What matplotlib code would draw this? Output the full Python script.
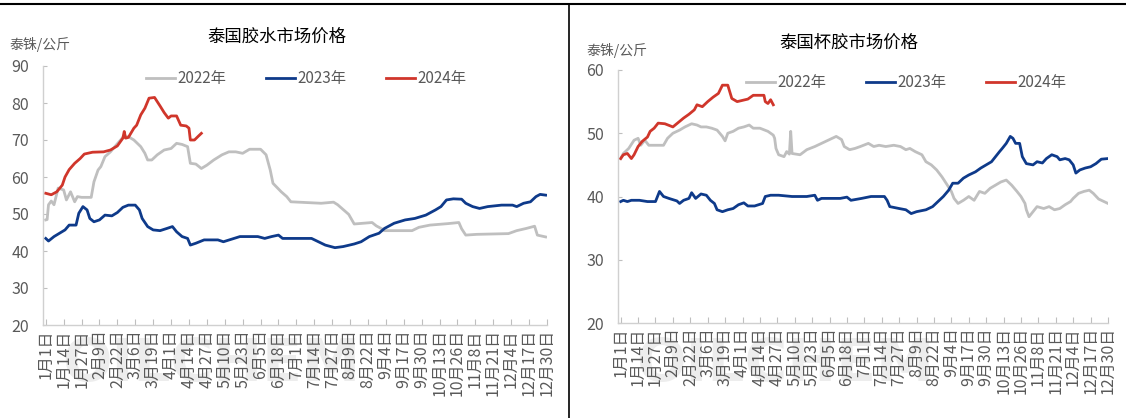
import numpy as np
import matplotlib
matplotlib.use("Agg")
import matplotlib.pyplot as plt
from matplotlib.lines import Line2D

plt.rcParams['font.family'] = ['Noto Sans CJK SC', 'DejaVu Sans']

# x axis: day of year (0 = 1月1日), labels every 13 days
tick_days = list(range(0, 365, 13))
tick_labels = ["1月1日", "1月14日", "1月27日", "2月9日", "2月22日", "3月6日", "3月19日",
               "4月1日", "4月14日", "4月27日", "5月10日", "5月23日", "6月5日", "6月18日",
               "7月1日", "7月14日", "7月27日", "8月9日", "8月22日", "9月4日", "9月17日",
               "9月30日", "10月13日", "10月26日", "11月8日", "11月21日", "12月4日",
               "12月17日", "12月30日"]

# ---- 泰国胶水市场价格 (泰铢/公斤) ----
latex_2022_day = [0, 1, 2, 4, 6, 9, 13, 15, 18, 21, 23, 26, 33, 35, 38, 40, 43, 47, 49, 52,
                  56, 60, 64, 69, 72, 74, 77, 81, 86, 91, 95, 99, 103, 105, 109, 113, 117,
                  122, 128, 133, 138, 143, 148, 156, 160, 163, 165, 171, 175, 178, 200, 209,
                  212, 216, 220, 224, 237, 240, 244, 246, 266, 271, 279, 292, 300, 302, 305,
                  313, 336, 342, 349, 355, 357, 363]
latex_2022_val = [48.4, 48.5, 52.5, 53.5, 52.5, 57.0, 56.5, 53.8, 56.0, 53.3, 54.7, 54.5, 54.5,
                  58.7, 61.9, 62.8, 65.5, 66.8, 67.7, 69.0, 70.7, 70.9, 70.0, 68.2, 66.4, 64.6,
                  64.6, 66.0, 67.3, 67.7, 69.1, 68.8, 68.2, 63.7, 63.5, 62.3, 63.2, 64.6, 66.0,
                  66.8, 66.8, 66.4, 67.5, 67.5, 66.0, 61.9, 58.3, 56.0, 54.7, 53.3, 52.9, 53.2,
                  52.5, 51.2, 49.9, 47.3, 47.7, 46.8, 46.0, 45.5, 45.5, 46.4, 47.0, 47.4, 47.7,
                  46.0, 44.3, 44.5, 44.7, 45.5, 46.1, 46.7, 44.3, 43.8]

latex_2023_day = [0, 2, 6, 10, 14, 17, 22, 24, 27, 30, 32, 35, 39, 43, 48, 52, 56, 60, 65, 68,
                  70, 74, 78, 83, 88, 92, 95, 99, 103, 105, 109, 115, 125, 129, 135, 141, 154,
                  159, 164, 169, 172, 193, 198, 203, 210, 216, 224, 229, 235, 242, 246, 253,
                  261, 268, 276, 283, 287, 291, 296, 302, 305, 310, 315, 321, 331, 339, 342,
                  347, 352, 356, 359, 363]
latex_2023_val = [43.4, 42.7, 43.9, 44.8, 45.7, 47.0, 47.0, 50.2, 52.0, 51.1, 48.8, 47.9, 48.4,
                  49.7, 49.5, 50.4, 51.8, 52.4, 52.4, 51.1, 48.8, 46.6, 45.7, 45.5, 46.1, 46.6,
                  45.2, 43.9, 43.4, 41.6, 42.1, 43.0, 43.0, 42.5, 43.2, 43.9, 43.9, 43.4, 43.9,
                  44.3, 43.4, 43.4, 42.5, 41.6, 40.9, 41.2, 41.9, 42.5, 43.9, 44.8, 46.1, 47.5,
                  48.4, 48.8, 49.7, 51.1, 52.0, 53.8, 54.1, 54.0, 52.9, 52.0, 51.5, 52.0, 52.4,
                  52.4, 52.0, 52.9, 53.3, 54.7, 55.3, 55.1]

latex_2024_day = [0, 4, 8, 12, 14, 17, 21, 25, 28, 34, 42, 47, 52, 56, 57, 58, 60, 64, 66, 69,
                  72, 75, 79, 83, 86, 89, 91, 95, 98, 102, 104, 105, 108, 111, 113]
latex_2024_val = [55.6, 55.2, 56.0, 57.8, 60.0, 62.0, 63.7, 65.0, 66.2, 66.7, 66.8, 67.3, 68.4,
                  70.5, 72.3, 70.5, 70.7, 73.2, 74.0, 76.8, 78.6, 81.3, 81.5, 79.2, 77.4, 75.9,
                  76.5, 76.5, 74.0, 73.8, 73.2, 70.0, 70.0, 71.1, 71.8]

# ---- 泰国杯胶市场价格 (泰铢/公斤) ----
cup_2022_day = [0, 2, 6, 10, 13, 15, 18, 21, 32, 35, 39, 44, 48, 53, 57, 60, 64, 68, 72, 76,
                78, 80, 84, 88, 92, 96, 99, 104, 110, 114, 115, 116, 118, 122, 124, 126, 127,
                128, 134, 139, 145, 150, 155, 161, 165, 167, 171, 175, 179, 185, 189, 193,
                198, 204, 209, 213, 216, 220, 225, 228, 232, 236, 240, 244, 247, 249, 252,
                256, 260, 264, 268, 272, 276, 280, 284, 288, 292, 296, 299, 302, 303, 305,
                308, 311, 316, 320, 324, 328, 332, 336, 338, 342, 346, 350, 353, 357, 361, 364]
cup_2022_val = [46.0, 46.8, 47.6, 48.9, 49.2, 48.1, 48.9, 48.1, 48.1, 49.2, 50.0, 50.5, 51.0,
                51.5, 51.3, 51.0, 51.0, 50.8, 50.5, 49.5, 48.8, 50.0, 50.3, 50.8, 51.0, 51.3,
                50.8, 50.8, 50.3, 49.7, 49.2, 47.6, 46.6, 46.3, 47.1, 46.7, 50.3, 46.8, 46.6,
                47.4, 47.9, 48.4, 48.9, 49.5, 49.0, 47.9, 47.4, 47.6, 47.9, 48.4, 47.9, 48.1,
                47.9, 48.1, 47.9, 47.4, 47.6, 47.1, 46.6, 45.5, 45.0, 44.2, 43.1, 41.8, 40.8,
                39.7, 38.9, 39.4, 40.0, 39.4, 40.8, 40.5, 41.3, 41.8, 42.3, 42.6, 41.8, 40.8,
                40.0, 38.9, 37.9, 36.8, 37.6, 38.4, 38.1, 38.4, 37.9, 38.1, 38.7, 39.2, 39.7,
                40.5, 40.8, 41.0, 40.5, 39.6, 39.2, 38.9]

cup_2023_day = [0, 2, 5, 8, 14, 20, 26, 29, 32, 36, 42, 44, 47, 51, 53, 56, 60, 64, 67, 70,
                72, 76, 80, 84, 88, 92, 95, 100, 106, 108, 112, 118, 128, 139, 145, 147, 150,
                158, 164, 169, 172, 180, 187, 197, 199, 201, 208, 213, 217, 221, 228, 233,
                237, 241, 245, 248, 252, 256, 260, 265, 269, 273, 277, 280, 283, 285, 288,
                291, 293, 295, 298, 300, 303, 308, 311, 315, 318, 322, 326, 328, 332, 335,
                338, 340, 343, 347, 351, 355, 359, 364]
cup_2023_val = [39.2, 39.4, 39.2, 39.4, 39.4, 39.2, 39.2, 40.8, 40.0, 39.7, 39.3, 38.9, 39.4,
                39.7, 40.6, 39.7, 40.4, 40.2, 39.4, 38.9, 37.9, 37.6, 37.9, 38.1, 38.7, 39.0,
                38.5, 38.5, 38.9, 40.0, 40.2, 40.2, 40.0, 40.0, 40.2, 39.4, 39.7, 39.7, 39.7,
                39.9, 39.4, 39.7, 40.0, 40.0, 39.4, 38.4, 38.1, 37.9, 37.3, 37.6, 37.9, 38.4,
                39.2, 40.0, 41.0, 42.1, 42.1, 42.9, 43.4, 43.9, 44.5, 45.0, 45.5, 46.3, 47.1,
                47.6, 48.4, 49.5, 49.2, 48.4, 48.4, 46.3, 45.2, 45.0, 45.5, 45.3, 46.0, 46.6,
                46.3, 45.8, 46.0, 45.8, 45.0, 43.7, 44.2, 44.5, 44.7, 45.2, 45.9, 46.0]

cup_2024_day = [0, 2, 5, 8, 10, 13, 16, 20, 22, 25, 28, 33, 39, 43, 47, 51, 55, 57, 61, 65,
                69, 73, 76, 80, 83, 87, 91, 95, 99, 103, 107, 108, 110, 112, 114]
cup_2024_val = [46.0, 46.6, 46.8, 46.0, 46.6, 47.9, 48.7, 49.4, 50.3, 50.8, 51.6, 51.5, 51.0,
                51.7, 52.4, 53.0, 53.7, 54.5, 54.2, 55.0, 55.7, 56.3, 57.6, 57.6, 55.5, 55.0,
                55.2, 55.4, 56.0, 56.0, 56.0, 55.0, 54.7, 55.3, 54.5]

series_names = ["2022年", "2023年", "2024年"]
colors = ["#BFBFBF", "#0E3A8A", "#D0362B"]
text_gray = "#595959"
axis_gray = "#BFBFBF"

W, H = 1126, 418
fig = plt.figure(figsize=(W / 100, H / 100), dpi=100)


def px(x0, y0, x1, y1):
    # pixel box -> figure fraction [left, bottom, width, height]
    return [x0 / W, 1 - y1 / H, (x1 - x0) / W, (y1 - y0) / H]


def draw_panel(box, data, ylim, yticks, title, title_xy, unit_xy, legend_x, legend_y):
    ax = fig.add_axes(px(*box))
    for (d, v), c, name in zip(data, colors, series_names):
        ax.plot(d, v, color=c, lw=2.0, label=name, solid_joinstyle="round")
    ax.set_xlim(-2, 364)
    ax.set_ylim(*ylim)
    ax.set_yticks(yticks)
    ax.set_xticks(tick_days)
    ax.set_xticklabels(tick_labels, rotation=90, fontsize=11.5, color=text_gray)
    ax.tick_params(axis="x", direction="in", length=4, color=axis_gray, pad=3)
    ax.tick_params(axis="y", direction="in", length=3, color=axis_gray,
                   labelsize=11.5, labelcolor=text_gray, pad=10)
    for s in ["top", "right"]:
        ax.spines[s].set_visible(False)
    for s in ["left", "bottom"]:
        ax.spines[s].set_color("#D0D0D0")
        ax.spines[s].set_linewidth(1.0)
    leg = ax.legend(loc="center left", ncol=3, frameon=False, fontsize=11,
                    bbox_to_anchor=(legend_x / W, 1 - legend_y / H),
                    bbox_transform=fig.transFigure, borderpad=0, borderaxespad=0,
                    handlelength=1.9, handletextpad=0.15, columnspacing=2.6)
    for t in leg.get_texts():
        t.set_color(text_gray)
    fig.text(title_xy[0] / W, 1 - title_xy[1] / H, title, ha="center", va="center",
             fontsize=12.5, color="black")
    fig.text(unit_xy[0] / W, 1 - unit_xy[1] / H, "泰铢/公斤", ha="left", va="center",
             fontsize=10, color=text_gray)
    return ax


draw_panel((43, 66, 547, 325),
           [(latex_2022_day, latex_2022_val), (latex_2023_day, latex_2023_val),
            (latex_2024_day, latex_2024_val)],
           (20, 90), range(20, 91, 10), "泰国胶水市场价格", (277, 37), (9, 45), 146, 79)

draw_panel((618, 70, 1108, 323),
           [(cup_2022_day, cup_2022_val), (cup_2023_day, cup_2023_val),
            (cup_2024_day, cup_2024_val)],
           (20, 60), range(20, 61, 10), "泰国杯胶市场价格", (849, 43), (586, 50), 746, 83)

# watermarks (faint, behind the tick labels)
for x in (62, 636):
    fig.text(x / W, 1 - 365 / H, "OILCHEM", fontsize=42, fontweight="bold",
             color="#EDEDED", family=["Liberation Sans Narrow", "DejaVu Sans"],
             ha="left", va="center", zorder=-1)

# frame lines: top rule and panel divider
fig.add_artist(Line2D([0, 1], [1 - 4 / H, 1 - 4 / H], transform=fig.transFigure,
                      color="black", lw=1.5))
fig.add_artist(Line2D([569 / W, 569 / W], [0, 1 - 4 / H], transform=fig.transFigure,
                      color="black", lw=1.2))

fig.savefig("out.png", dpi=100)
